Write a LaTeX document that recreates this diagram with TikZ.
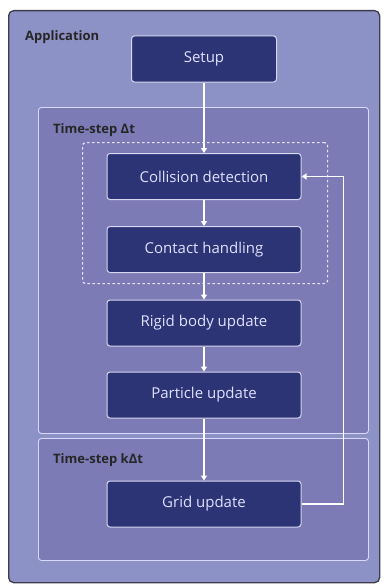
\documentclass[tikz,border=0pt]{standalone}
\usepackage{fontspec}
\setmainfont{Open Sans}
\usetikzlibrary{arrows.meta}
\definecolor{appfill}{HTML}{8C92C5}
\definecolor{stepfill}{HTML}{7D7BB6}
\definecolor{boxfill}{HTML}{2C3475}
\definecolor{boxline}{HTML}{D6D8F0}
\definecolor{frameline}{HTML}{3C3C4C}
\tikzset{
  x=1pt, y=-1pt,
  stage/.style={draw=boxline, line width=1pt, fill=boxfill, rounded corners=3pt,
    text=white!88!blue, font=\fontsize{15}{17}\selectfont,
    minimum width=194pt, minimum height=46pt, inner sep=0pt},
  group/.style={draw=white!85!blue, line width=0.9pt, fill=stepfill, rounded corners=3pt,
    anchor=north west, inner sep=0pt},
  grouplabel/.style={anchor=west, inner sep=0pt, font=\bfseries\fontsize{13}{15}\selectfont, text=black!85},
  flow/.style={draw=white, line width=1.4pt, -{Triangle[width=6pt,length=5pt]}},
}
\begin{document}
\begin{tikzpicture}
\useasboundingbox (0,0) rectangle (386,586);
\fill[white] (0,0) rectangle (386,586);
% application frame
\node[draw=frameline, line width=1.3pt, fill=appfill, rounded corners=5pt, anchor=north west,
  minimum width=371pt, minimum height=572pt, inner sep=0pt] (app) at (8,10) {};
\node[grouplabel] (applbl) at (25,37) {Application};
% time-step groups
\node[group, minimum width=330pt, minimum height=326pt] (dt) at (38,107) {};
\node[grouplabel] (dtlbl) at (53,130) {Time-step Δt};
\node[group, minimum width=330pt, minimum height=122pt] (kdt) at (38,438) {};
\node[grouplabel] (kdtlbl) at (53,460) {Time-step kΔt};
% collision loop frame
\node[draw=white!90!blue, line width=1.2pt, dash pattern=on 2.5pt off 2.5pt, rounded corners=3pt,
  anchor=north west, minimum width=245pt, minimum height=141pt, inner sep=0pt] (loop) at (82,142) {};
% stages
\node[stage, minimum width=145pt] (setup) at (204,59) {Setup};
\node[stage] (coll) at (204,176.5) {Collision detection};
\node[stage] (cont) at (204,249.5) {Contact handling};
\node[stage] (rigid) at (204,323) {Rigid body update};
\node[stage] (part) at (204,395) {Particle update};
\node[stage] (grid) at (204,504) {Grid update};
% flow
\draw[flow] (setup) -- (coll);
\draw[flow] (coll) -- (cont);
\draw[flow] (cont) -- (rigid);
\draw[flow] (rigid) -- (part);
\draw[flow] (part) -- (grid);
\draw[flow] (grid.east) -- ++(42,0) |- (coll.east);
\end{tikzpicture}
\end{document}
